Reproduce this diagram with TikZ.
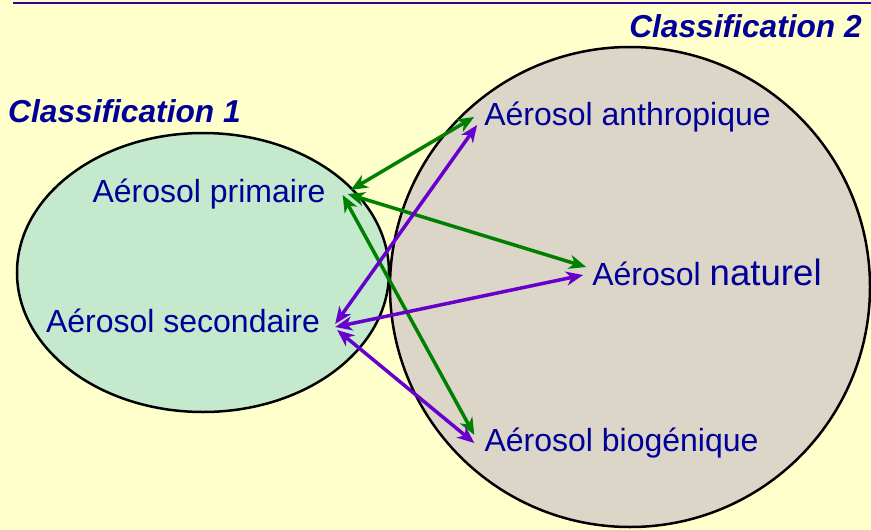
\documentclass[tikz,border=0pt]{standalone}
\usepackage{fontspec}
\setmainfont{Liberation Sans}
\usetikzlibrary{arrows.meta,calc}
\definecolor{bgcol}{HTML}{FFFFCC}
\definecolor{txtcol}{HTML}{000099}
\definecolor{linecol}{HTML}{330099}
\definecolor{leftfill}{HTML}{C4E9CC}
\definecolor{rightfill}{HTML}{DCD6C8}
\definecolor{grn}{HTML}{008000}
\definecolor{prp}{HTML}{6600CC}
\tikzset{
  lbl/.style={text=txtcol, inner ysep=0pt, text height=23pt, text depth=7pt, anchor=base,
              font=\fontsize{32}{38}\selectfont},
  cls/.style={text=txtcol, inner sep=0pt, font=\fontsize{31.7}{38}\selectfont\bfseries\itshape},
  blob/.style={draw=black, line width=2.5pt},
  garrow/.style={draw=grn, line width=3.5pt, {Stealth[length=17pt,width=14pt,inset=5pt]}-{Stealth[length=17pt,width=14pt,inset=5pt]}},
  parrow/.style={draw=prp, line width=3.5pt, {Stealth[length=17pt,width=14pt,inset=5pt]}-{Stealth[length=17pt,width=14pt,inset=5pt]}},
}
\begin{document}
\begin{tikzpicture}[x=1pt,y=-1pt]
\useasboundingbox (0,0) rectangle (871,530);
\fill[bgcol] (0,0) rectangle (871,530);
\draw[linecol, line width=2.5pt] (13,3) -- (871,3);
\path[blob, fill=rightfill] (630,287) ellipse [x radius=240pt, y radius=240pt];
\path[blob, fill=leftfill] (203,272.5) ellipse [x radius=186pt, y radius=139.5pt];

\node[cls, anchor=base west] (c1) at (8,122) {Classification 1};
\node[cls, anchor=base east] (c2) at (862,37) {Classification 2};

\node[lbl, inner xsep=20pt] (prim) at (209,202) {Aérosol primaire};
\node[lbl, inner xsep=15pt] (sec) at (183,332) {Aérosol secondaire};
\node[lbl, inner xsep=10pt] (anth) at (627.5,125) {Aérosol anthropique};
\node[lbl, inner xsep=6pt] (nat) at (707,285) {Aérosol {\fontsize{36.6}{40}\selectfont naturel}};
\node[lbl, inner xsep=10pt] (bio) at (621.5,451) {Aérosol biogénique};

\draw[garrow] ([xshift=5pt,yshift=4pt]prim.east) -- (anth.west);
\draw[garrow] ([xshift=2pt]prim.east) -- ([yshift=10pt]nat.west);
\draw[garrow] ([xshift=-3pt,yshift=-1pt]prim.east) -- ([yshift=8pt]bio.west);
\draw[parrow] (sec.east) -- ([xshift=3pt,yshift=-8pt]anth.west);
\draw[parrow] ([yshift=-3pt]sec.east) -- ([xshift=-3pt,yshift=2pt]nat.west);
\draw[parrow] ([xshift=2pt,yshift=-6pt]sec.east) -- (bio.west);
\end{tikzpicture}
\end{document}
